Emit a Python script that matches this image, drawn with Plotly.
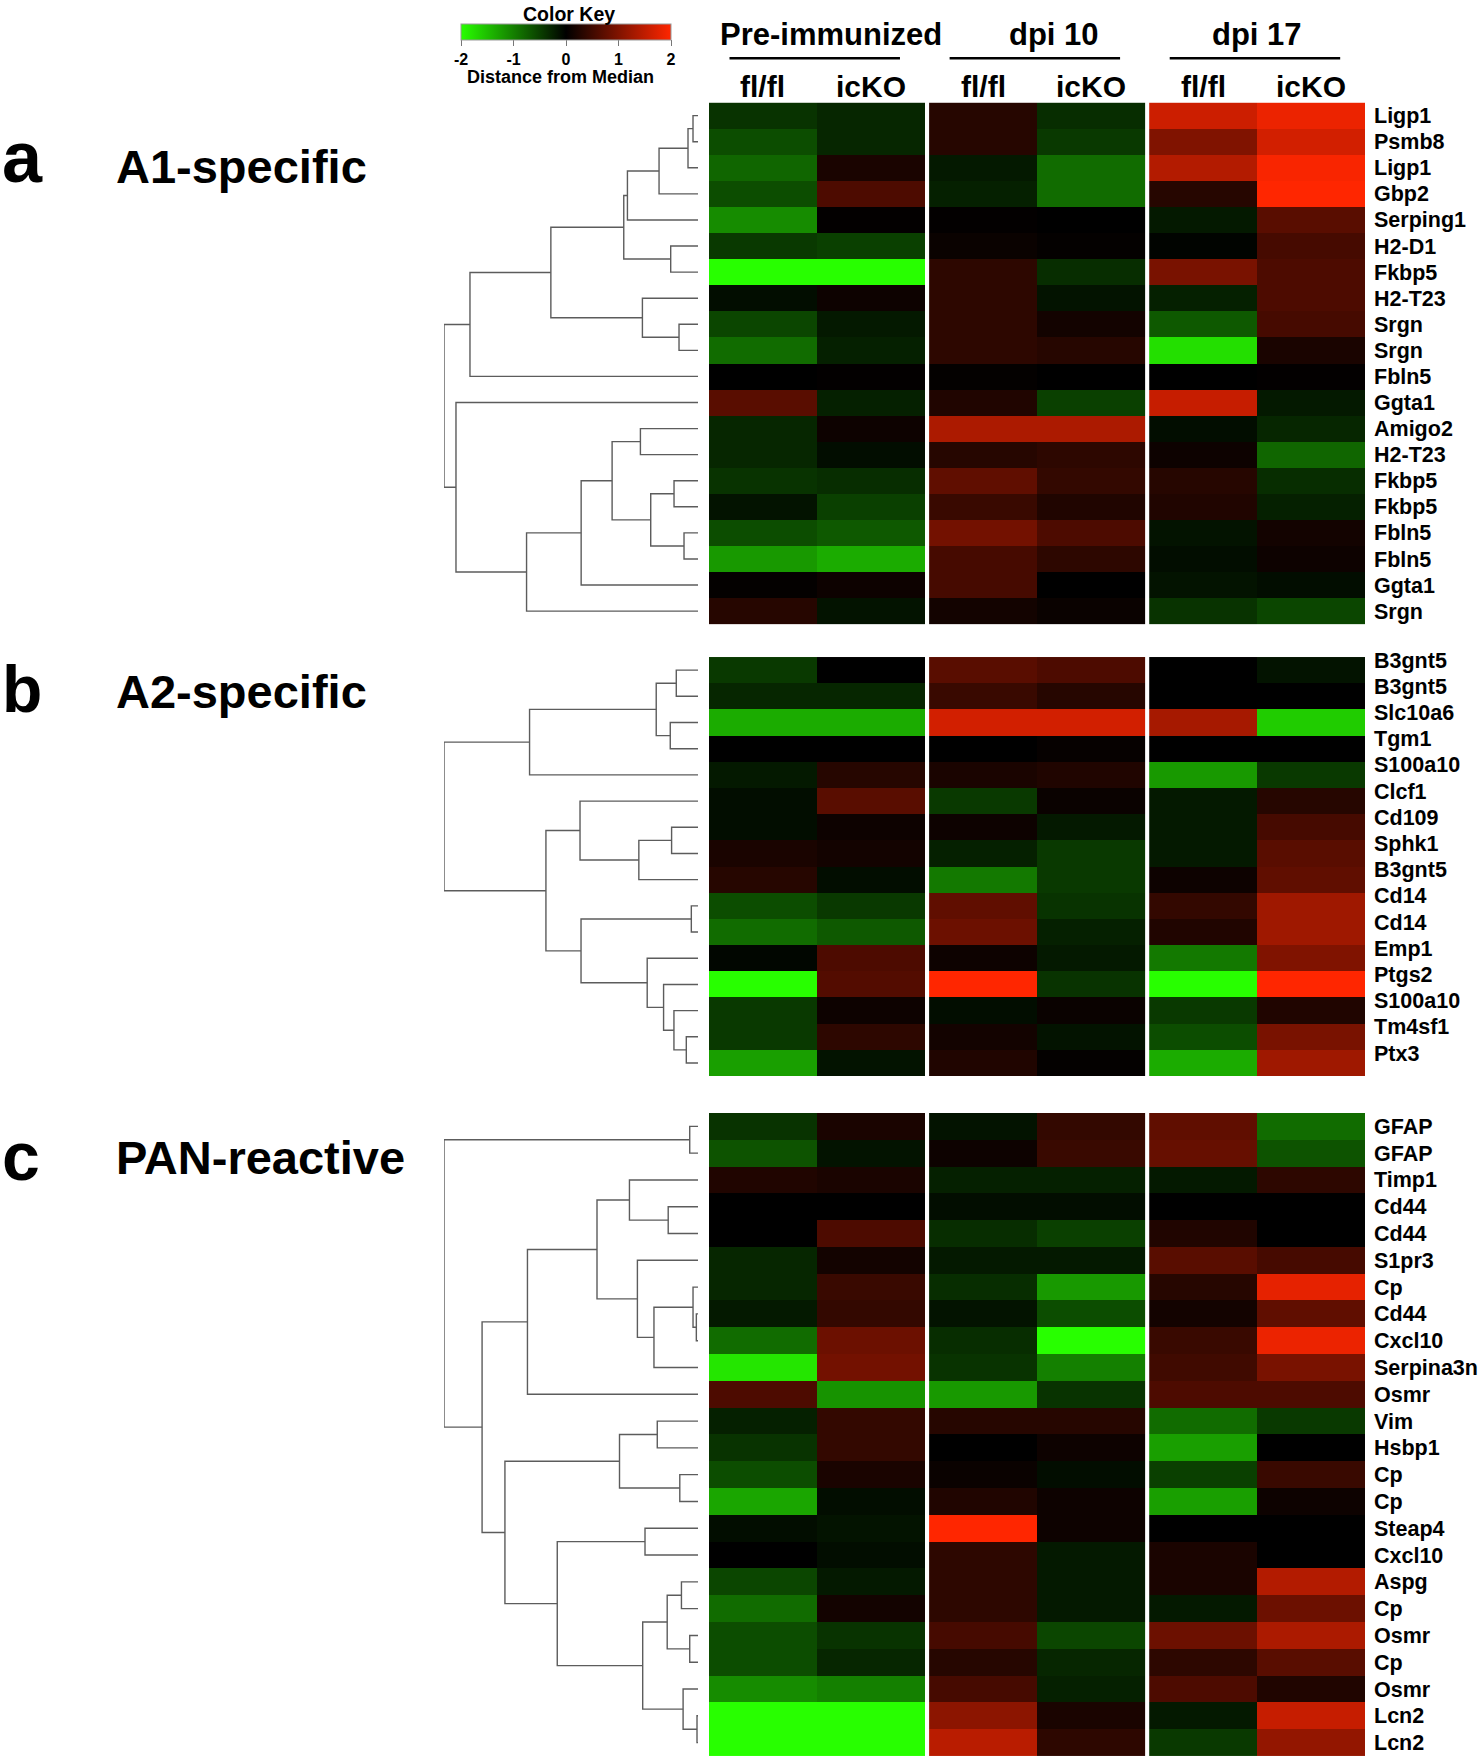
import plotly.graph_objects as go

# ------------------------------------------------------------------ data
groups = ["Pre-immunized", "dpi 10", "dpi 17"]
genotypes = ["fl/fl", "icKO"]
key_ticks = [-2, -1, 0, 1, 2]

# columns: Pre fl/fl, Pre icKO, dpi10 fl/fl, dpi10 icKO, dpi17 fl/fl, dpi17 icKO
a_title = "A1-specific"
a_genes = ["Ligp1", "Psmb8", "Ligp1", "Gbp2", "Serping1", "H2-D1", "Fkbp5", "H2-T23",
           "Srgn", "Srgn", "Fbln5", "Ggta1", "Amigo2", "H2-T23", "Fkbp5", "Fkbp5",
           "Fbln5", "Fbln5", "Ggta1", "Srgn"]
a_values = [
    [-0.40, -0.30, 0.30, -0.35, 1.60, 1.85],
    [-0.60, -0.30, 0.30, -0.45, 1.00, 1.65],
    [-0.80, 0.20, -0.20, -0.85, 1.40, 1.95],
    [-0.60, 0.60, -0.25, -0.85, 0.30, 2.00],
    [-1.10, 0.02, 0.02, 0.00, -0.20, 0.70],
    [-0.45, -0.50, 0.08, 0.03, -0.03, 0.55],
    [-2.00, -2.00, 0.35, -0.35, 0.95, 0.60],
    [-0.10, 0.10, 0.35, -0.15, -0.25, 0.60],
    [-0.55, -0.20, 0.35, 0.15, -0.70, 0.55],
    [-0.85, -0.25, 0.35, 0.30, -1.75, 0.20],
    [0.00, 0.02, 0.03, 0.00, 0.00, 0.02],
    [0.70, -0.25, 0.25, -0.50, 1.55, -0.20],
    [-0.30, 0.10, 1.35, 1.35, -0.10, -0.30],
    [-0.30, -0.10, 0.30, 0.35, 0.10, -0.80],
    [-0.40, -0.35, 0.75, 0.40, 0.30, -0.35],
    [-0.15, -0.50, 0.45, 0.25, 0.25, -0.25],
    [-0.60, -0.70, 0.90, 0.60, -0.15, 0.15],
    [-1.20, -1.35, 0.55, 0.35, -0.10, 0.10],
    [0.03, 0.10, 0.55, 0.00, -0.15, -0.10],
    [0.30, -0.15, 0.15, 0.08, -0.40, -0.55],
]
# linkage rows: (child a, child b, merge height); new clusters numbered from n
a_linkage = [
    (0, 1, 0.15), (20, 2, 0.30), (21, 3, 1.17), (22, 4, 2.12), (5, 6, 0.82),
    (23, 24, 2.23), (8, 9, 0.57), (7, 26, 1.67), (25, 27, 4.42), (28, 10, 6.85),
    (12, 13, 1.73), (14, 15, 0.72), (16, 17, 0.42), (31, 32, 1.42), (30, 33, 2.58),
    (34, 18, 3.51), (35, 19, 5.15), (11, 36, 7.27), (29, 37, 7.63),
]

b_title = "A2-specific"
b_genes = ["B3gnt5", "B3gnt5", "Slc10a6", "Tgm1", "S100a10", "Clcf1", "Cd109", "Sphk1",
           "B3gnt5", "Cd14", "Cd14", "Emp1", "Ptgs2", "S100a10", "Tm4sf1", "Ptx3"]
b_values = [
    [-0.45, 0.00, 0.70, 0.60, 0.00, -0.15],
    [-0.30, -0.30, 0.45, 0.30, 0.00, 0.00],
    [-1.35, -1.35, 1.65, 1.65, 1.30, -1.60],
    [0.00, 0.00, 0.00, 0.05, 0.00, 0.00],
    [-0.20, 0.30, 0.20, 0.25, -1.20, -0.45],
    [-0.10, 0.70, -0.45, 0.08, -0.20, 0.30],
    [-0.10, 0.10, 0.10, -0.20, -0.20, 0.55],
    [0.20, 0.15, -0.25, -0.45, -0.20, 0.70],
    [0.30, -0.10, -0.95, -0.45, 0.10, 0.75],
    [-0.60, -0.45, 0.75, -0.40, 0.40, 1.25],
    [-0.85, -0.70, 0.85, -0.25, 0.25, 1.25],
    [-0.05, 0.60, 0.10, -0.20, -0.95, 1.00],
    [-2.00, 0.65, 2.00, -0.40, -2.00, 2.00],
    [-0.45, 0.10, -0.10, 0.08, -0.45, 0.25],
    [-0.45, 0.35, 0.15, -0.15, -0.60, 0.95],
    [-1.25, -0.15, 0.25, 0.03, -1.35, 1.25],
]
b_linkage = [
    (0, 1, 0.65), (2, 3, 0.83), (16, 17, 1.25), (18, 4, 5.04), (6, 7, 0.79),
    (20, 8, 1.77), (5, 21, 3.53), (9, 10, 0.20), (14, 15, 0.35), (13, 24, 0.72),
    (12, 25, 1.03), (11, 26, 1.52), (23, 27, 3.50), (22, 28, 4.55), (19, 29, 7.60),
]

c_title = "PAN-reactive"
c_genes = ["GFAP", "GFAP", "Timp1", "Cd44", "Cd44", "S1pr3", "Cp", "Cd44", "Cxcl10",
           "Serpina3n", "Osmr", "Vim", "Hsbp1", "Cp", "Cp", "Steap4", "Cxcl10", "Aspg",
           "Cp", "Osmr", "Cp", "Osmr", "Lcn2", "Lcn2"]
c_values = [
    [-0.40, 0.20, -0.15, 0.40, 0.75, -0.85],
    [-0.65, -0.15, 0.10, 0.45, 0.80, -0.65],
    [0.25, 0.20, -0.25, -0.25, -0.20, 0.35],
    [0.00, 0.00, -0.10, -0.10, 0.00, 0.00],
    [0.00, 0.60, -0.35, -0.50, 0.25, 0.00],
    [-0.30, 0.15, -0.20, -0.20, 0.70, 0.55],
    [-0.30, 0.45, -0.35, -1.20, 0.30, 1.80],
    [-0.20, 0.40, -0.15, -0.60, 0.15, 0.75],
    [-0.85, 0.85, -0.35, -2.00, 0.45, 1.85],
    [-1.80, 0.90, -0.40, -1.00, 0.50, 0.95],
    [0.60, -1.15, -1.20, -0.40, 0.60, 0.60],
    [-0.25, 0.40, 0.30, 0.30, -0.85, -0.45],
    [-0.40, 0.40, 0.00, 0.10, -1.25, 0.00],
    [-0.60, 0.20, 0.08, -0.10, -0.50, 0.45],
    [-1.30, -0.10, 0.25, 0.10, -1.25, 0.10],
    [-0.10, -0.15, 2.00, 0.10, 0.00, 0.00],
    [0.00, -0.10, 0.35, -0.20, 0.20, 0.00],
    [-0.55, -0.20, 0.35, -0.20, 0.20, 1.40],
    [-0.85, 0.15, 0.35, -0.20, -0.20, 0.85],
    [-0.60, -0.40, 0.55, -0.55, 0.85, 1.35],
    [-0.60, -0.30, 0.30, -0.30, 0.35, 0.70],
    [-1.10, -1.00, 0.55, -0.25, 0.60, 0.25],
    [-2.00, -2.00, 1.10, 0.20, -0.20, 1.55],
    [-2.00, -2.00, 1.45, 0.35, -0.45, 1.15],
]
c_linkage = [
    (0, 1, 0.25), (3, 4, 0.90), (2, 25, 2.07), (7, 8, 0.05), (6, 27, 0.15),
    (28, 9, 1.33), (5, 29, 1.83), (26, 30, 3.05), (31, 10, 5.15), (11, 12, 1.23),
    (13, 14, 0.55), (33, 34, 2.37), (15, 16, 1.60), (17, 18, 0.50), (19, 20, 0.25),
    (37, 38, 0.93), (22, 23, 0.03), (21, 40, 0.45), (39, 41, 1.67), (36, 42, 4.25),
    (35, 43, 5.83), (32, 44, 6.52), (24, 45, 7.67),
]

# ------------------------------------------------------------------ layout constants
OY = 7                     # vertical offset at which the plot appears in the window
W, H = 1481, 1764 - OY
FONT = "Liberation Sans, Arial, sans-serif"
GROUP_STEP = 2.04          # column units between groups (1 = one column; 0.04 = white gap)
HEAT_X = (709, 1365)       # pixel extent of heat maps (window pixels)
DEND_X = (444, 698)        # pixel extent of dendrograms
panels = [
    dict(letter="a", title=a_title, genes=a_genes, values=a_values, link=a_linkage,
         top=102, bottom=626, label_shift=0.0, text_y=166, letter_y=157, letter_size=72),
    dict(letter="b", title=b_title, genes=b_genes, values=b_values, link=b_linkage,
         top=659, bottom=1080, label_shift=-0.38, text_y=694, letter_y=691, letter_size=66),
    dict(letter="c", title=c_title, genes=c_genes, values=c_values, link=c_linkage,
         top=1117, bottom=1763, label_shift=0.0, text_y=1162, letter_y=1160, letter_size=68),
]


def px(x):
    return x / W


def py(y):
    return 1 - (y - OY) / H


def dendro_lines(n, linkage):
    pos = {i: (float(i), 0.0) for i in range(n)}
    xs, ys = [], []
    h = 0.0
    for k, (a, b, h) in enumerate(linkage):
        ya, ha = pos[a]
        yb, hb = pos[b]
        xs += [ha, h, h, hb, None]
        ys += [ya, ya, yb, yb, None]
        pos[n + k] = ((ya + yb) / 2, h)
    return xs, ys, h


fig = go.Figure()
layout = dict(
    width=W, height=H, margin=dict(l=0, r=0, t=0, b=0),
    paper_bgcolor="white", plot_bgcolor="white", showlegend=False,
    font=dict(family=FONT, color="black"),
    coloraxis=dict(
        cmin=-2, cmax=2,
        colorscale=[[0, "rgb(40,255,0)"], [0.5, "rgb(0,0,0)"], [1, "rgb(255,38,0)"]],
        colorbar=dict(
            orientation="h", x=px(566), xanchor="center", y=py(23), yanchor="top",
            len=210, lenmode="pixels", thickness=16, thicknessmode="pixels",
            xpad=0, ypad=0, outlinewidth=1, outlinecolor="#999",
            tickvals=key_ticks, ticktext=[str(t) for t in key_ticks],
            ticks="outside", ticklen=6, tickcolor="#777", tickwidth=1,
            tickfont=dict(family=FONT, size=16, weight="bold", color="black"),
        ),
    ),
)
annotations = []
shapes = []

n_cols_x = [g * GROUP_STEP + c for g in range(len(groups)) for c in range(len(genotypes))]

for p, P in enumerate(panels):
    hx = 2 * p + 1
    dx = 2 * p + 2
    n = len(P["genes"])
    sx = "" if hx == 1 else str(hx)
    sdx = str(dx)
    ydom = [py(P["bottom"]), py(P["top"])]

    for g in range(len(groups)):
        z = [row[2 * g: 2 * g + 2] for row in P["values"]]
        fig.add_trace(go.Heatmap(
            z=z, x=n_cols_x[2 * g: 2 * g + 2], y=list(range(n)),
            coloraxis="coloraxis", xaxis="x" + sx, yaxis="y" + sx,
            hoverinfo="skip",
        ))

    xs, ys, root = dendro_lines(n, P["link"])
    fig.add_trace(go.Scatter(
        x=xs, y=ys, mode="lines", xaxis="x" + sdx, yaxis="y" + sdx,
        line=dict(color="#5c5c5c", width=1.4), hoverinfo="skip",
    ))

    layout["xaxis" + sx] = dict(domain=[px(HEAT_X[0]), px(HEAT_X[1])],
                                range=[-0.5, n_cols_x[-1] + 0.5], anchor="y" + sx,
                                visible=False, fixedrange=True)
    layout["yaxis" + sx] = dict(domain=ydom, range=[n - 0.5, -0.5], anchor="x" + sx,
                                side="right", showgrid=False, zeroline=False, showline=False,
                                ticks="", tickvals=[i + P["label_shift"] for i in range(n)],
                                ticktext=P["genes"], ticklabelstandoff=8,
                                tickfont=dict(family=FONT, size=21.5, weight="bold",
                                              color="black"))
    layout["xaxis" + sdx] = dict(domain=[px(DEND_X[0]), px(DEND_X[1])],
                                 range=[root, 0], anchor="y" + sdx, visible=False)
    layout["yaxis" + sdx] = dict(domain=ydom, range=[n - 0.5, -0.5], anchor="x" + sdx,
                                 visible=False)

    annotations.append(dict(text=P["letter"], x=px(0), y=py(P["letter_y"]), xref="paper",
                            yref="paper", xanchor="left", yanchor="middle", showarrow=False,
                            font=dict(family=FONT, size=P["letter_size"], weight="bold")))
    annotations.append(dict(text=P["title"], x=px(114), y=py(P["text_y"]), xref="paper",
                            yref="paper", xanchor="left", yanchor="middle", showarrow=False,
                            font=dict(family=FONT, size=47, weight="bold")))

# group headers, underlines and genotype labels (tied to panel a heat-map axis)
header_shift = [0.13, 0.16, 0.0]
for g, name in enumerate(groups):
    centre = g * GROUP_STEP + 0.5
    annotations.append(dict(text=name, x=centre + header_shift[g], y=py(34), xref="x",
                            yref="paper", xanchor="center", yanchor="middle", showarrow=False,
                            font=dict(family=FONT, size=31, weight="bold")))
    shapes.append(dict(type="line", xref="x", yref="paper",
                       x0=g * GROUP_STEP - 0.31, x1=g * GROUP_STEP + 1.27,
                       y0=py(57.5), y1=py(57.5), line=dict(color="black", width=2.5)))
    for c, gt in enumerate(genotypes):
        annotations.append(dict(text=gt, x=g * GROUP_STEP + c, y=py(85.5), xref="x",
                                yref="paper", xanchor="center", yanchor="middle",
                                showarrow=False,
                                font=dict(family=FONT, size=30, weight="bold")))

annotations.append(dict(text="Color Key", x=px(569), y=py(13.5), xref="paper", yref="paper",
                        xanchor="center", yanchor="middle", showarrow=False,
                        font=dict(family=FONT, size=19.5, weight="bold")))
annotations.append(dict(text="Distance from Median", x=px(560), y=py(76.5), xref="paper",
                        yref="paper", xanchor="center", yanchor="middle", showarrow=False,
                        font=dict(family=FONT, size=18, weight="bold")))

layout["annotations"] = annotations
layout["shapes"] = shapes
fig.update_layout(**layout)
fig.write_html(
    "out.html",
    config={"displayModeBar": False},
    post_script=("document.body.style.margin='0';"
                 "var gd=document.getElementById('{plot_id}');"
                 "gd.style.position='absolute';gd.style.left='0px';gd.style.top='0px';"),
)
